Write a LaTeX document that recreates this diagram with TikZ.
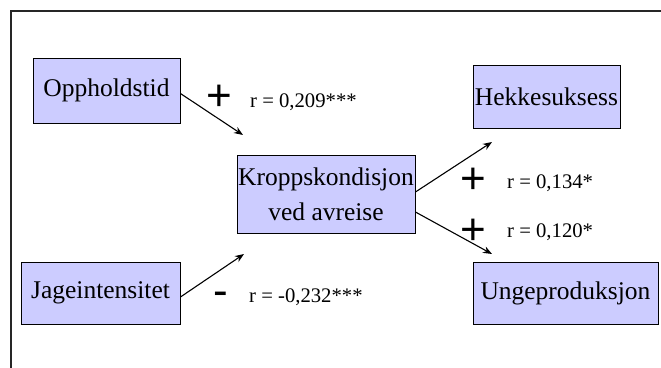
\documentclass[tikz,border=0pt]{standalone}
\usepackage{fontspec}
\setmainfont{Liberation Serif}
\newfontfamily\signfont{Liberation Sans}
\usetikzlibrary{arrows.meta,calc}
\definecolor{boxfill}{HTML}{CCCCFF}
\tikzset{
  varbox/.style={draw=black, line width=0.9pt, fill=boxfill, inner sep=0pt, align=center,
    font=\fontsize{25.5}{35}\selectfont},
  sign/.style={inner sep=0pt, font=\signfont\fontsize{44}{44}\selectfont},
  rlabel/.style={inner sep=0pt, anchor=west, font=\fontsize{20.7}{24}\selectfont},
  link/.style={line width=1.1pt, -{Stealth[length=9pt,width=7pt]}}
}
\begin{document}
\begin{tikzpicture}[x=1pt,y=-1pt]
\useasboundingbox (0,0) rectangle (661,367);
\draw[line width=2pt, color=black!85] (11,368) -- (11,11) -- (662,11);
\node[varbox, minimum width=147pt, minimum height=65pt] (opp) at (106.5,90.5) {Oppholdstid};
\node[varbox, minimum width=147pt, minimum height=63pt] (hekk) at (546.5,96.5) {Hekkesuksess};
\node[varbox, minimum width=178pt, minimum height=78pt] (kropp) at (326,194) {Kroppskondisjon\\ved avreise};
\node[varbox, minimum width=159pt, minimum height=62pt] (jage) at (100.5,293) {Jageintensitet};
\node[varbox, minimum width=185pt, minimum height=62pt] (unge) at (565.5,293) {Ungeproduksjon};
\coordinate (e1) at (243,135);
\coordinate (e2) at (244,254);
\coordinate (e3) at (492,142);
\coordinate (e4) at (492,254);
\draw[link] ($(opp.east)+(0,3)$) -- (e1);
\draw[link] ($(jage.east)+(0,4)$) -- (e2);
\draw[link] ($(kropp.east)+(0,-2)$) -- (e3);
\draw[link] ($(kropp.east)+(0,18)$) -- (e4);
\node[sign] (s1) at (219,98) {+};
\node[rlabel] (r1) at (250,102) {r = 0,209***};
\node[sign] (s2) at (221,299) {-};
\node[rlabel] (r2) at (249,297) {r = -0,232***};
\node[sign] (s3) at (473,181) {+};
\node[rlabel] (r3) at (507,183) {r = 0,134*};
\node[sign] (s4) at (473,232) {+};
\node[rlabel] (r4) at (507,232) {r = 0,120*};
\end{tikzpicture}
\end{document}
